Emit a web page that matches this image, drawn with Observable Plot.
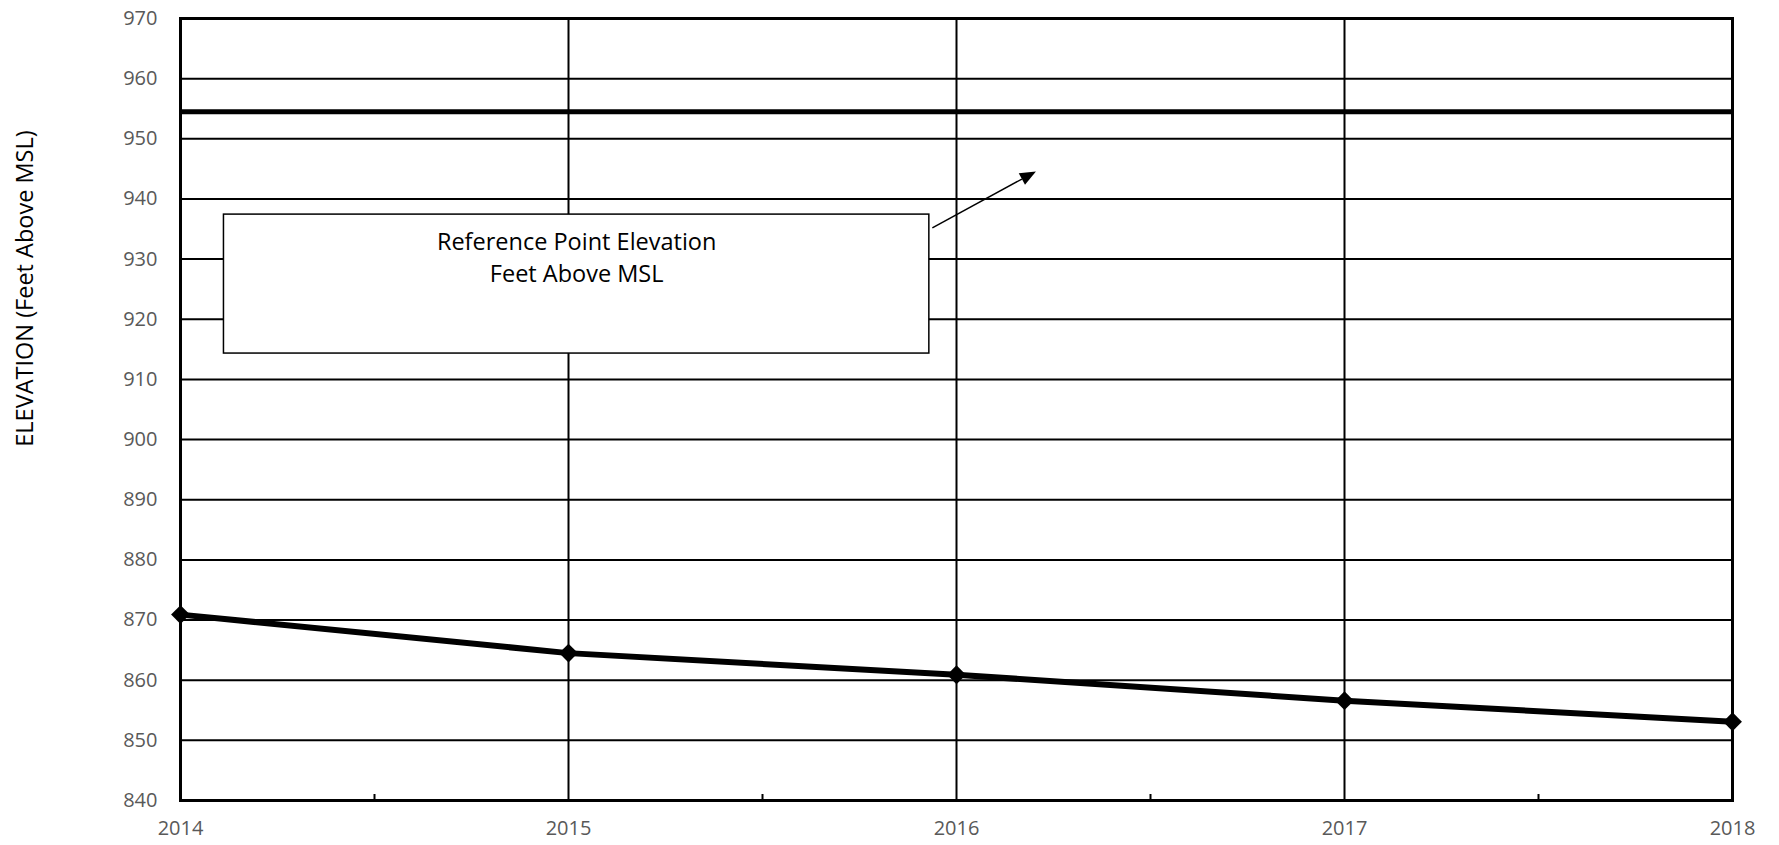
<!DOCTYPE html>
<html><head><meta charset="utf-8">
<script src="https://cdn.jsdelivr.net/npm/d3@7"></script>
<script src="https://cdn.jsdelivr.net/npm/@observablehq/plot@0.6"></script>
<style>body{margin:0;background:#fff;} #chart svg{display:block}</style>
</head><body><div id="chart"></div>
<script>
const years = [2014, 2015, 2016, 2017, 2018];
const elevations = [870.9, 864.5, 860.9, 856.6, 853.1];
const referenceElevation = [954.5];
const yTicks = [840, 850, 860, 870, 880, 890, 900, 910, 920, 930, 940, 950, 960, 970];
const xTicks = [2014, 2015, 2016, 2017, 2018];
const minorTicks = [2014.5, 2015.5, 2016.5, 2017.5];
const yLabel = "ELEVATION (Feet Above MSL)";
const boxText = ["Reference Point Elevation\nFeet Above MSL"];
const boxX = [2014.112, 2015.93];
const boxY = [914.3, 937.4];
const arrowFrom = [2015.939, 935.1];
const arrowTo = [2016.206, 944.5];

const data = years.map((y, i) => ({year: y, elev: elevations[i]}));
const FONT = "'Open Sans', 'DejaVu Sans', sans-serif";

function arrowMark(index, scales) {
  const {x, y} = scales;
  const x1 = x(arrowFrom[0]), y1 = y(arrowFrom[1]);
  const x2 = x(arrowTo[0]), y2 = y(arrowTo[1]);
  const a = Math.atan2(y2 - y1, x2 - x1);
  const L = 16, W = 6.5;
  const c = Math.cos(a), s = Math.sin(a);
  const bx = x2 - L * c, by = y2 - L * s;
  const g = d3.create("svg:g");
  g.append("line").attr("x1", x1).attr("y1", y1).attr("x2", bx).attr("y2", by)
    .attr("stroke", "black").attr("stroke-width", 1.5);
  g.append("path").attr("d", `M${x2},${y2}L${bx - W * s},${by + W * c}L${bx + W * s},${by - W * c}Z`)
    .attr("fill", "black");
  return g.node();
}

const chart = Plot.plot({
  width: 1779,
  height: 845,
  marginLeft: 180,
  marginRight: 47,
  marginTop: 18,
  marginBottom: 45,
  style: {fontFamily: FONT, background: "#fff"},
  x: {domain: [2014, 2018]},
  y: {domain: [840, 970]},
  marks: [
    Plot.ruleY(yTicks, {stroke: "black", strokeWidth: 2}),
    Plot.ruleX(xTicks, {stroke: "black", strokeWidth: 2}),
    Plot.ruleX(minorTicks, {stroke: "black", strokeWidth: 2, insetTop: 776}),
    Plot.ruleY(referenceElevation, {stroke: "black", strokeWidth: 5}),
    Plot.rect([0], {x1: () => boxX[0], x2: () => boxX[1], y1: () => boxY[0], y2: () => boxY[1], fill: "white", stroke: "black", strokeWidth: 1.5}),
    Plot.text(boxText, {x: () => (boxX[0] + boxX[1]) / 2, y: () => boxY[1], text: d => d, lineAnchor: "top", dy: 13, lineHeight: 1.35, fontSize: 23.5, fill: "black", fontFamily: FONT}),
    arrowMark,
    Plot.line(data, {x: "year", y: "elev", stroke: "black", strokeWidth: 6}),
    Plot.dot(data, {x: "year", y: "elev", symbol: "diamond2", r: 8.5, fill: "black", stroke: "none"}),
    Plot.frame({stroke: "black", strokeWidth: 3}),
    Plot.axisY({ticks: yTicks, tickSize: 0, tickPadding: 23, fontSize: 20, color: "#595959", label: null, fontFamily: FONT}),
    Plot.axisX({ticks: xTicks, tickSize: 0, tickPadding: 20, fontSize: 20, color: "#595959", label: null, tickFormat: d => String(d), fontFamily: FONT}),
    Plot.text([yLabel], {frameAnchor: "top-left", dx: -164, dy: 270, rotate: -90, text: d => d, fontSize: 23.5, fill: "black", textAnchor: "middle", fontFamily: FONT})
  ]
});
document.getElementById("chart").append(chart);
</script>
</body></html>
